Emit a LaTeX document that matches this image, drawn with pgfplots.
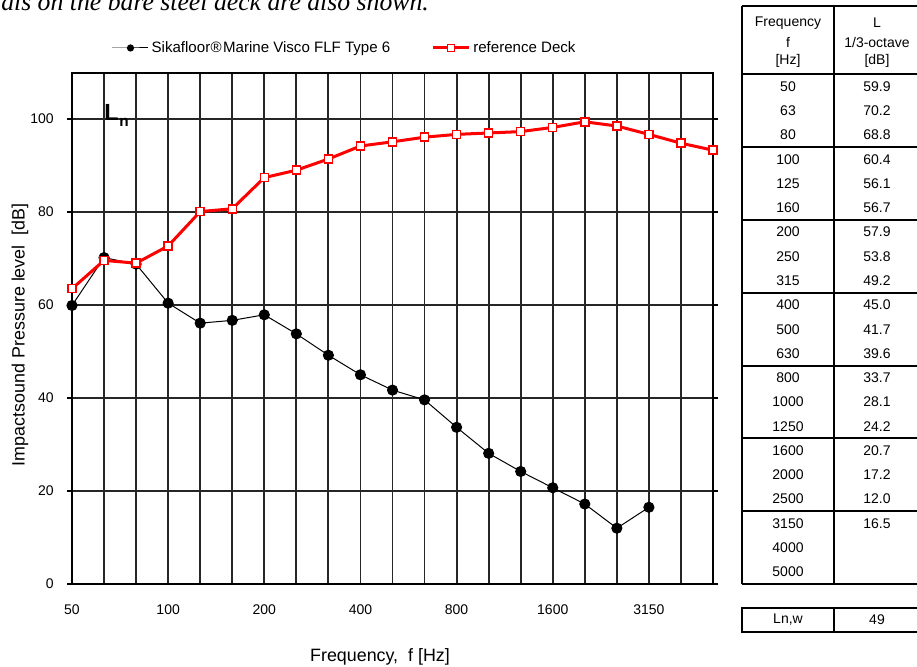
\documentclass[border=0pt]{standalone}
\usepackage{pgfplots}
\pgfplotsset{compat=1.18}
\usepackage{fontspec}
\setmainfont{Liberation Sans}
\newfontfamily\titlefont{Liberation Serif}

\definecolor{refred}{RGB}{255,0,0}

\begin{document}
\begin{tikzpicture}
% page frame and the side table, laid out on a 917 x 667 grid (y downwards)
\begin{scope}[x=0.75pt,y=-0.75pt]
  \path[use as bounding box] (0,0) rectangle (917,667);
  \node[anchor=base west, inner sep=0pt, font=\titlefont\itshape\fontsize{19.3}{22}\selectfont]
    at (1,10.5) {als on the bare steel deck are also shown.};

  % table frame
  \begin{scope}[line width=1.5pt]
    \draw (742,6) -- (919,6);
    \draw (742,74.4) -- (919,74.4);
    \foreach \yy in {147.2,220,292.8,365.6,438.4,511.2,584}
      \draw (742,\yy) -- (919,\yy);
    \draw (742,6) -- (742,584);
    \draw (834,6) -- (834,584);
    \draw (919,6) -- (919,584);
    % weighted index box
    \draw (742,608) rectangle (919,632);
    \draw (834,608) -- (834,632);
  \end{scope}

  \begin{scope}[every node/.style={inner sep=0pt, font=\fontsize{10.5}{12}\selectfont}]
    \node at (788,23) {Frequency};
    \node at (788,42) {f};
    \node at (788,61) {[Hz]};
    \node at (877,23) {L};
    \node at (877,42) {1/3-octave};
    \node at (877,61) {[dB]};
    \foreach \f/\v [count=\k from 0] in {50/59.9,63/70.2,80/68.8,100/60.4,125/56.1,160/56.7,
        200/57.9,250/53.8,315/49.2,400/45.0,500/41.7,630/39.6,800/33.7,1000/28.1,1250/24.2,
        1600/20.7,2000/17.2,2500/12.0,3150/16.5,4000/,5000/}
    {
      \node at (788,{74.4+24.27*(\k+0.5)}) {\f};
      \node at (877,{74.4+24.27*(\k+0.5)}) {\v};
    }
    \node at (788,620) {Ln,w};
    \node at (877,620) {49};
  \end{scope}
\end{scope}

\begin{axis}[
  at={(54pt,-438pt)}, anchor=south west,
  width=480.75pt, height=383.6pt, scale only axis,
  xmin=0, xmax=20, ymin=0, ymax=110,
  xtick={0,...,20},
  xticklabels={50,,,100,,,200,,,400,,,800,,,1600,,,3150,,},
  ytick={0,20,...,100},
  grid=major,
  major grid style={line width=1.4pt, black!85},
  axis line style={line width=1.5pt, black},
  xtick style={draw=none},
  ytick style={line width=1.4pt, black},
  tick align=outside,
  major tick length=3.75pt,
  /pgf/number format/assume math mode=true,
  ticklabel style={font=\fontsize{10.5}{12}\selectfont, inner sep=0pt},
  xticklabel style={anchor=north, yshift=-11.25pt},
  yticklabel style={anchor=east, xshift=-9.75pt},
  xlabel={Frequency,\ \ f [Hz]},
  ylabel={Impact\kern0.5pt sound Pressure level \ [dB]},
  label style={font=\fontsize{13.4}{15}\selectfont},
  xlabel style={at={(axis description cs:0.4805,-0.1427)}, anchor=center, inner sep=0pt},
  ylabel style={at={(axis description cs:-0.0811,0.487)}, anchor=center, rotate=0, inner sep=0pt},
  clip=false,
  legend columns=2,
  legend image code/.code={
    \draw[mark repeat=2,mark phase=2,#1] plot coordinates {(0pt,0pt) (13.5pt,0pt) (27pt,0pt)};
  },
  legend style={
    at={(axis description cs:0.0624,1.048)}, anchor=west,
    draw=none, fill=none, inner sep=0pt, outer sep=0pt,
    font=\fontsize{11.3}{13}\selectfont,
    nodes={inner xsep=2pt, inner ysep=1pt},
    /tikz/every even column/.append style={column sep=29pt},
  },
]
\addplot[black, line width=0.75pt, mark=*, mark size=3.8pt, mark options={fill=black},
  legend image post style={mark size=2.3pt}]
  coordinates {(0,59.9)(1,70.2)(2,68.8)(3,60.4)(4,56.1)(5,56.7)(6,57.9)(7,53.8)(8,49.2)
    (9,45.0)(10,41.7)(11,39.6)(12,33.7)(13,28.1)(14,24.2)(15,20.7)(16,17.2)(17,12.0)(18,16.5)};
\addlegendentry{Sikafloor\kern0.3pt\textregistered\kern1pt Marine Visco FLF Type 6}

\addplot[refred, line width=2.25pt, mark=square*, mark size=3pt,
  mark options={fill=white, draw=refred, line width=1.1pt},
  legend image post style={mark size=2.7pt}]
  coordinates {(0,63.5)(1,69.6)(2,69.0)(3,72.7)(4,80.1)(5,80.7)(6,87.4)(7,89.0)(8,91.4)
    (9,94.2)(10,95.1)(11,96.1)(12,96.7)(13,97.0)(14,97.3)(15,98.2)(16,99.4)(17,98.5)
    (18,96.7)(19,94.8)(20,93.3)};
\addlegendentry{reference Deck}

\node[anchor=base west, inner sep=0pt] at (axis description cs:0.0499,0.9058)
  {{\fontsize{17.5}{19}\selectfont\bfseries L}\kern0.6pt\raisebox{-4.5pt}{\fontsize{11.5}{12}\selectfont\bfseries n}};
\end{axis}
\end{tikzpicture}
\end{document}
